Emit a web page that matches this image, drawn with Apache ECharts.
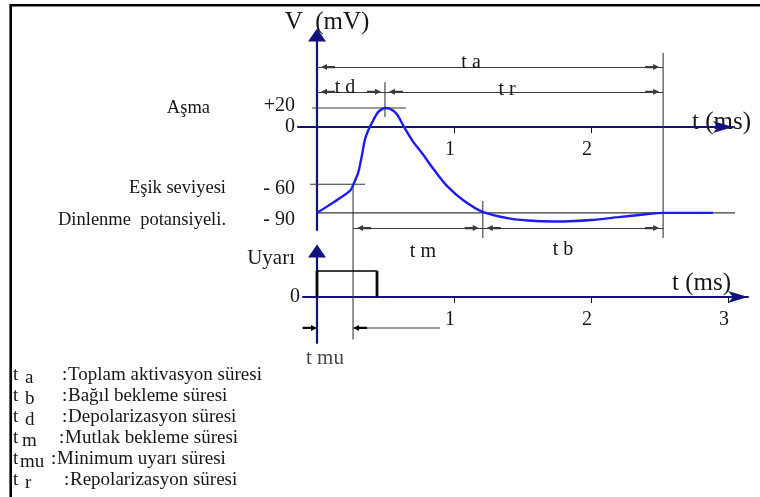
<!DOCTYPE html>
<html>
<head>
<meta charset="utf-8">
<script src="https://cdn.jsdelivr.net/npm/echarts@6/dist/echarts.min.js"></script>
<style>
html, body { margin: 0; padding: 0; background: #fff; }
#chart { width: 760px; height: 497px; }
</style>
</head>
<body>
<div id="chart"></div>
<script>
// action potential, t in ms, V in mV
const apTime = [0, 0.12, 0.24, 0.263, 0.30, 0.326, 0.35, 0.375, 0.41, 0.447, 0.484, 0.50, 0.53, 0.58, 0.64, 0.70, 0.775, 0.85, 0.95, 1.07, 1.21, 1.41, 1.6, 1.8, 2.0, 2.2, 2.4, 2.53, 2.89];
const apVolt = [-90, -79, -67, -61, -48, -31, -13, -3, 7, 16, 19.7, 20, 19.5, 14, -1, -15, -29, -44, -62, -77, -89, -96, -98.5, -99, -97.5, -94.5, -91.5, -90, -90];

const vTicks = [20, 0, -60, -90];
const vNames = ["Aşma", "", "Eşik seviyesi", "Dinlenme  potansiyeli."];
const tTicksTop = [1, 2];
const tTicksBottom = [1, 2, 3];

// characteristic times (ms)
const tThreshold = 0.263;
const tPeak = 0.496;
const tRelative = 1.21;
const tTotal = 2.526;

// stimulus pulse
const stimTime = [0, 0, 0.438, 0.438];
const stimLevel = [0, 1, 1, 0];

// time spans drawn as dimension lines (top panel, level in mV)
const spanNames = ["t a", "t d", "t r", "t m", "t b"];
const spanStart = [0, 0, tPeak, tThreshold, tRelative];
const spanEnd = [tTotal, tPeak, tTotal, tRelative, tTotal];
const spanLevel = [63, 37, 37, -106, -106];

// t mu span (bottom panel)
const muLevel = -1.19;
const muOuterLeft = -0.474;
const muOuterRight = 0.898;

// legend
const legendSub = ["a", "b", "d", "m", "mu", "r"];
const legendDesc = ["Toplam aktivasyon süresi", "Bağıl bekleme süresi", "Depolarizasyon süresi", "Mutlak bekleme süresi", "Minimum uyarı süresi", "Repolarizasyon süresi"];

// layout
const FONT = '"Liberation Serif", "Times New Roman", serif';
const INK = "#161616";
const AXIS_BLUE = "#12127e";
const CURVE_BLUE = "#1c1cf0";
const THIN = "#3a3a3a";
const ARROW_PATH = "path://M3,0L6,6L4.1,6L4.1,14L1.9,14L1.9,6L0,6Z";
const spanLabelPos = ["insideMiddleTop", "insideMiddleTop", "insideMiddleTop", "insideMiddleBottom", "insideMiddleBottom"];
const spanLabelDist = [-6, -6, -8, 0, 0];
const spanLabelShift = [[-19, 0], [-6, 0], [-17, 0], [5, 7], [-10, 6]];
const legendSubX = [25, 25, 25, 22, 20, 25];
const legendDescX = [68, 68, 68, 65, 57, 70];

const pair = (xs, ys) => xs.map((x, i) => [x, ys[i]]);
const shiftPad = ([dx, dy]) => [Math.max(0, 2 * dy), Math.max(0, -2 * dx), Math.max(0, -2 * dy), Math.max(0, 2 * dx)];

const segment = (name, grid, points, width) => ({
    name,
    type: "line",
    xAxisIndex: grid,
    yAxisIndex: grid === 0 ? 0 : 2,
    data: points,
    symbol: "none",
    clip: false,
    silent: true,
    z: 3,
    lineStyle: { color: THIN, width: width || 1.1 },
});

const spanMarks = spanNames.map((name, i) => [
    {
        coord: [spanStart[i], spanLevel[i]],
        name,
        label: {
            show: true,
            position: spanLabelPos[i],
            distance: spanLabelDist[i],
            formatter: name,
            padding: shiftPad(spanLabelShift[i]),
            fontFamily: FONT,
            fontSize: 20,
            color: INK,
        },
    },
    { coord: [spanEnd[i], spanLevel[i]] },
]);

const series = [
    {
        name: "V",
        type: "line",
        xAxisIndex: 0,
        yAxisIndex: 0,
        data: pair(apTime, apVolt),
        smooth: 0.3,
        symbol: "none",
        z: 4,
        lineStyle: { color: CURVE_BLUE, width: 2.4 },
        markLine: {
            silent: true,
            symbol: [ARROW_PATH, ARROW_PATH],
            symbolSize: [6, 14],
            symbolOffset: [[0, 11], [0, 11]],
            lineStyle: { color: THIN, width: 1.1, type: "solid" },
            itemStyle: { color: "#000" },
            data: spanMarks,
        },
    },
    segment("ref20", 0, [[-0.036, 20], [0.65, 20]]),
    segment("ref60", 0, [[-0.051, -60], [0.35, -60]]),
    segment("ref90", 0, [[0, -90], [3.16, -90]]),
    segment("peak", 0, [[tPeak, 47], [tPeak, 10.6]]),
    segment("threshold", 0, [[tThreshold, -60], [tThreshold, -223]]),
    segment("relative", 0, [[tRelative, -77.6], [tRelative, -116.4]]),
    segment("total", 0, [[tTotal, 77.8], [tTotal, -116.4]]),
    {
        name: "Uyarı",
        type: "line",
        xAxisIndex: 1,
        yAxisIndex: 2,
        data: pair(stimTime, stimLevel),
        symbol: "none",
        z: 4,
        lineStyle: { color: "#000", width: 1.6 },
    },
    segment("pulseRise", 1, pair(stimTime.slice(0, 2), stimLevel.slice(0, 2)), 3),
    segment("pulseFall", 1, pair(stimTime.slice(2), stimLevel.slice(2)), 3),
    segment("muLeft", 1, [
        [muOuterLeft, muLevel],
        { value: [0, muLevel], symbol: ARROW_PATH, symbolSize: [6, 14], symbolRotate: -90, symbolOffset: [-7, 0], itemStyle: { color: "#000" } },
    ]),
    segment("muRight", 1, [
        [muOuterRight, muLevel],
        { value: [tThreshold, muLevel], symbol: ARROW_PATH, symbolSize: [6, 14], symbolRotate: 90, symbolOffset: [7, 0], itemStyle: { color: "#000" } },
    ]),
    {
        name: "t mu",
        type: "scatter",
        xAxisIndex: 1,
        yAxisIndex: 2,
        clip: false,
        silent: true,
        symbolSize: 1,
        itemStyle: { color: "rgba(0,0,0,0)" },
        data: [[0.058, -2.38]],
        label: { show: true, position: "inside", formatter: "t mu", fontFamily: FONT, fontSize: 21, color: INK },
    },
];

const legendGraphics = [];
legendSub.forEach((sub, i) => {
    const top = 366 + i * 21;
    const style = { font: `19px ${FONT}`, fill: INK };
    legendGraphics.push({ type: "text", left: 13, top, style: { ...style, text: "t" } });
    legendGraphics.push({ type: "text", left: legendSubX[i], top: top + 3, style: { ...style, text: sub } });
    legendGraphics.push({ type: "text", left: legendDescX[i] - 6, top, style: { ...style, text: ":" } });
    legendGraphics.push({ type: "text", left: legendDescX[i], top, style: { ...style, text: legendDesc[i] } });
});

const vLabel = (v) => {
    if (v === 20) return "{up|+20}";
    if (v === 0) return "0";
    if (v === -60) return "{d4|- 60}";
    return "{d7|- 90}";
};
const nameLabel = (v) => {
    const i = vTicks.indexOf(v);
    if (v === 20) return "{a|" + vNames[i] + "}";
    if (v === -60) return "{d4|" + vNames[i] + "}";
    return "{d7|" + vNames[i] + "}";
};

const labelText = { fontFamily: FONT, fontSize: 20, color: INK };

const option = {
    animation: false,
    backgroundColor: "#fff",
    grid: [
        { left: 298, right: 27, top: 35, bottom: 267, outerBoundsMode: "none" },
        { left: 303, right: 12, top: 251, bottom: 154, outerBoundsMode: "none" },
    ],
    xAxis: [
        {
            type: "value",
            gridIndex: 0,
            min: -0.1387,
            max: 3.036,
            name: "t (ms)",
            nameLocation: "end",
            nameGap: -41,
            nameTextStyle: { fontFamily: FONT, fontSize: 25, color: INK, verticalAlign: "bottom", lineHeight: 9 },
            axisLine: { onZero: true, symbol: ["none", "arrow"], symbolSize: [9, 20], lineStyle: { color: AXIS_BLUE, width: 2 } },
            axisTick: { show: true, customValues: tTicksTop, length: 6, lineStyle: { color: INK } },
            // labels sit at the grid edge, not on the zero line, so pull them up
            axisLabel: { customValues: tTicksTop, margin: -90, padding: [0, 8, 0, 0], ...labelText },
            splitLine: { show: false },
        },
        {
            type: "value",
            gridIndex: 1,
            min: -0.1022,
            max: 3.146,
            name: "t (ms)",
            nameLocation: "end",
            nameGap: -76,
            nameTextStyle: { fontFamily: FONT, fontSize: 25, color: INK, verticalAlign: "bottom", lineHeight: 28 },
            axisLine: { onZero: true, symbol: ["none", "arrow"], symbolSize: [9, 20], lineStyle: { color: AXIS_BLUE, width: 2 } },
            axisTick: { show: true, customValues: tTicksBottom, length: 6, lineStyle: { color: INK } },
            axisLabel: { customValues: tTicksBottom, margin: -33, padding: [0, 8, 0, 0], ...labelText },
            splitLine: { show: false },
        },
    ],
    yAxis: [
        {
            type: "value",
            gridIndex: 0,
            min: -108,
            max: 96.7,
            name: "V  (mV)",
            nameLocation: "end",
            nameGap: 0,
            nameTextStyle: { fontFamily: FONT, fontSize: 25, color: INK, padding: [0, 0, 0, 20] },
            axisLine: { onZero: true, symbol: ["none", "triangle"], symbolSize: [18, 13], lineStyle: { color: AXIS_BLUE, width: 2.2 } },
            axisTick: { show: false },
            axisLabel: {
                customValues: vTicks,
                margin: 3,
                formatter: vLabel,
                ...labelText,
                rich: {
                    up: { ...labelText, padding: [0, 0, 4, 0] },
                    d4: { ...labelText, padding: [8, 0, 0, 0] },
                    d7: { ...labelText, padding: [14, 0, 0, 0] },
                },
            },
            splitLine: { show: false },
        },
        {
            type: "value",
            gridIndex: 0,
            position: "left",
            offset: 72,
            min: -108,
            max: 96.7,
            axisLine: { show: false, onZero: false },
            axisTick: { show: false },
            axisLabel: {
                customValues: [20, -60, -90],
                margin: 0,
                formatter: nameLabel,
                fontFamily: FONT,
                fontSize: 18.5,
                color: INK,
                rich: {
                    a: { fontFamily: FONT, fontSize: 18.5, color: INK, padding: [0, 16, 0, 0] },
                    d4: { fontFamily: FONT, fontSize: 18.5, color: INK, padding: [8, 0, 0, 0] },
                    d7: { fontFamily: FONT, fontSize: 18.5, color: INK, padding: [14, 0, 0, 0] },
                },
            },
            splitLine: { show: false },
        },
        {
            type: "value",
            gridIndex: 1,
            min: -1.77,
            max: 1.77,
            name: "Uyarı",
            nameLocation: "end",
            nameGap: -7,
            nameTextStyle: { fontFamily: FONT, fontSize: 21, color: INK, align: "right", verticalAlign: "middle", padding: [0, 22, 0, 0] },
            axisLine: { onZero: true, symbol: ["none", "triangle"], symbolSize: [18, 13], lineStyle: { color: AXIS_BLUE, width: 2.2 } },
            axisTick: { show: false },
            axisLabel: { customValues: [0], margin: 3, ...labelText },
            splitLine: { show: false },
        },
    ],
    graphic: [
        {
            type: "polyline",
            silent: true,
            shape: { points: [[10.7, 497], [10.7, 5.3], [760, 5.3]] },
            style: { stroke: "#000", lineWidth: 2.6, fill: null },
        },
        ...legendGraphics,
    ],
    series,
};

const chart = echarts.init(document.getElementById("chart"));
chart.setOption(option);
</script>
</body>
</html>
